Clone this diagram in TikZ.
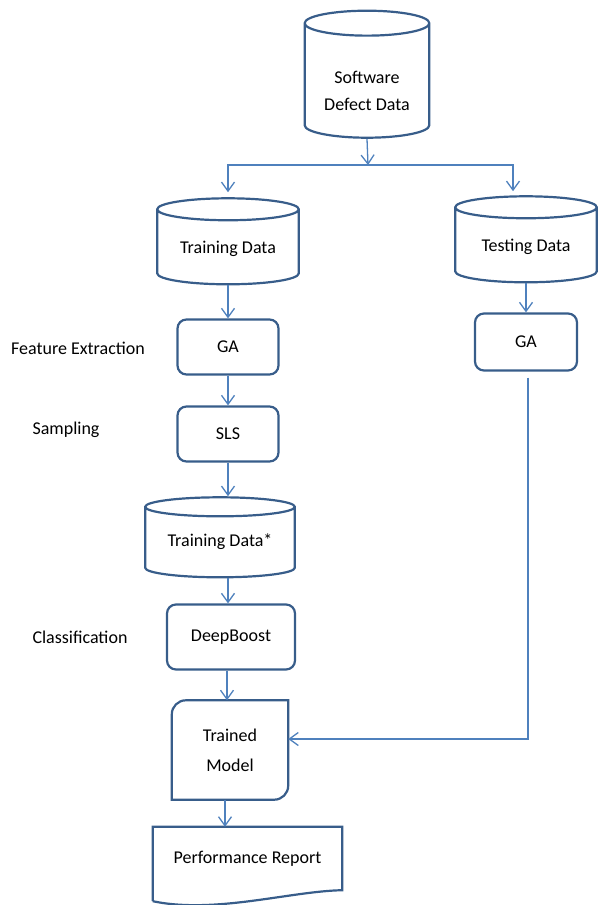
\documentclass[tikz,border=0pt]{standalone}
\usepackage{fontspec}
\setmainfont{Carlito}
\usetikzlibrary{arrows.meta, calc, shapes.geometric}

\definecolor{boxblue}{RGB}{56,93,138}
\definecolor{flowblue}{RGB}{79,129,189}

\begin{document}
\begin{tikzpicture}[x=1pt, y=-1pt, >={Straight Barb[length=9pt, width=13pt]},
    every node/.style={font=\fontsize{18}{22}\selectfont},
    store/.style={draw=boxblue, line width=2.2pt, cylinder, shape border rotate=90, aspect=0.155, align=center},
    stepbox/.style={draw=boxblue, line width=2.2pt, rounded corners=9pt, align=center},
    outline/.style={draw=boxblue, line width=2.2pt},
    flow/.style={draw=flowblue, line width=1.3pt}]
  \useasboundingbox (0,0) rectangle (598,905);

  % data stores (text set a little below the centre)
  \node[store, text width=118pt, minimum height=127pt, aspect=0.2,
    label={[align=center, yshift=-8pt]center:Software\\[5pt]Defect Data}] (sdd) at (367,83) {};
  \node[store, text width=135pt, minimum height=86pt,
    label={center:Training Data}] (train) at (228,249) {};
  \node[store, text width=135pt, minimum height=86pt,
    label={center:Testing Data}] (test) at (526,247) {};
  \node[store, text width=143pt, minimum height=80pt, aspect=0.127,
    label={[yshift=2pt]center:Training Data*}] (trainS) at (220,544) {};

  % processing steps
  \node[stepbox, minimum width=101pt, minimum height=55pt] (gaL) at (228,347) {GA};
  \node[stepbox, minimum width=101pt, minimum height=55pt] (sls) at (228,434) {SLS};
  \node[stepbox, minimum width=128pt, minimum height=65pt] (boost) at (231,637) {DeepBoost};
  \node[stepbox, minimum width=102pt, minimum height=57pt] (gaR) at (526,342) {GA};

  % stage labels
  \node (lblFeat) at (78,348) {Feature Extraction};
  \node (lblSamp) at (66,430) {Sampling};
  \node (lblClass) at (80,637) {Classification};

  % trained model, two rounded corners
  \node[minimum width=116pt, minimum height=99pt, align=center] (model) at (230,750) {Trained\\[8pt]Model};
  \draw[outline] (model.south west) -- ([yshift=-14pt]model.north west)
    arc[start angle=180, end angle=90, radius=14pt] -- (model.north east)
    -- ([yshift=14pt]model.south east) arc[start angle=0, end angle=-90, radius=14pt] -- cycle;

  % report, wavy bottom edge
  \node[minimum width=189pt, minimum height=63pt] (perf) at (247.5,858.5) {Performance Report};
  \draw[outline] ($(perf.south west)+(0,11)$) -- (perf.north west) -- (perf.north east) -- (perf.south east)
    .. controls ($(perf.south east)+(-52,1)$) and ($(perf.south west)+(62,24)$) .. ($(perf.south west)+(0,11)$);

  % split of the data
  \coordinate (fork) at (368,165);
  \draw[flow, ->] (sdd.south) -- (fork);
  \draw[flow, ->] (fork) -| ([yshift=5pt]train.north);
  \draw[flow, ->] (fork) -| ([xshift=-13pt, yshift=4pt]test.north);

  % training branch
  \draw[flow, ->] (train.south) -- (gaL.north);
  \draw[flow, ->] (gaL.south) -- (sls.north);
  \draw[flow, ->] (sls.south) -- (sls.south |- trainS.north);
  \draw[flow, ->] ([xshift=8pt]trainS.south) -- ([xshift=8pt]trainS.south |- boost.north);
  \draw[flow, ->] ([xshift=-4pt]boost.south) -- ([xshift=-4pt]boost.south |- model.north);
  \draw[flow, ->] ([xshift=-5pt]model.south) -- ([xshift=-5pt]model.south |- perf.north);

  % testing branch
  \draw[flow, ->] (test.south) -- (gaR.north);
  \draw[flow, ->] ([xshift=2pt, yshift=-6pt]gaR.south) |- ([yshift=11pt]model.east);
\end{tikzpicture}
\end{document}
